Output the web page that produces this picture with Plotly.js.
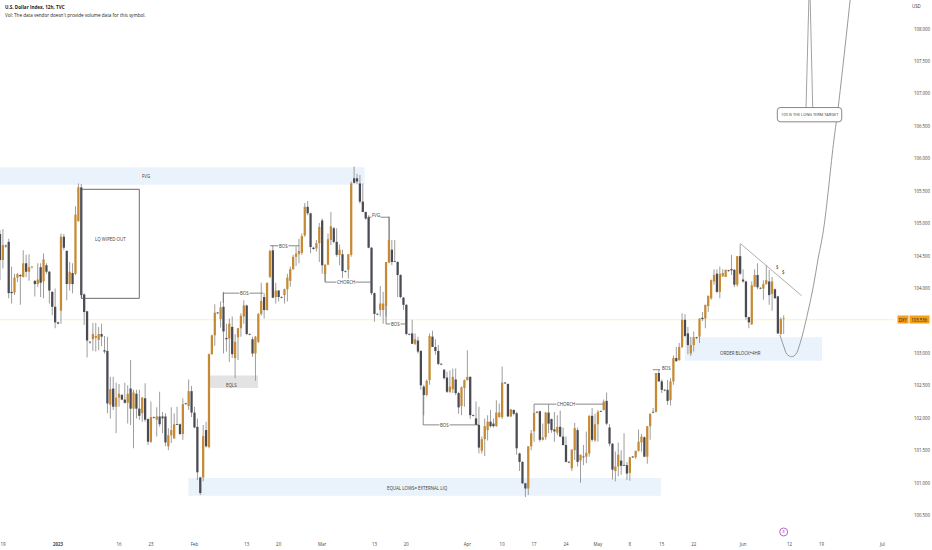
<!DOCTYPE html>
<html>
<head>
<meta charset="utf-8">
<script src="https://cdn.plot.ly/plotly-3.0.1.min.js"></script>
<style>html,body{margin:0;padding:0;background:#fff;overflow:hidden}</style>
</head>
<body>
<div id="chart" style="width:932px;height:550px"></div>
<script>
// 12h candles, one entry per bar
const opens = [
  104.84,104.44,104.66,104.72,103.95,103.94,104.17,104.21,104.18,104.39,
  104.26,104.33,104.12,104.07,104.33,104.11,104.36,104.26,103.95,103.72,
  103.48,103.66,104.80,104.58,104.07,104.24,104.23,105.04,105.56,103.91,
  103.65,103.18,103.22,103.24,103.21,103.30,103.05,103.04,102.21,102.46,
  102.18,102.32,102.36,102.29,102.24,102.46,102.15,102.38,102.15,102.08,
  102.31,101.99,101.64,102.02,101.98,102.03,102.03,102.03,101.57,101.74,
  101.69,101.91,101.91,101.76,102.23,102.19,102.42,102.09,101.87,101.09,
  101.09,101.82,101.56,102.99,103.28,103.63,103.53,103.72,103.24,103.23,
  103.41,102.93,103.25,103.39,103.57,103.74,103.30,103.22,103.00,103.18,
  103.61,103.87,103.67,104.18,104.59,103.87,103.97,103.87,103.90,103.99,
  104.12,104.30,104.49,104.53,104.55,104.82,105.26,105.16,104.63,104.62,
  104.70,105.05,104.23,104.37,104.75,104.93,104.72,104.52,104.53,104.27,
  104.29,104.52,105.70,105.70,105.62,105.34,105.18,105.10,104.63,103.93,
  103.61,103.67,103.67,103.73,104.40,104.60,104.42,104.41,104.21,103.86,
  103.75,103.30,103.31,103.15,103.20,103.04,102.49,102.36,102.59,103.26,
  103.10,103.04,102.84,102.75,102.63,102.41,102.45,102.60,102.39,102.19,
  102.47,102.59,102.64,102.05,102.00,101.90,101.50,101.68,101.82,101.95,
  101.92,101.88,102.02,102.02,102.55,102.53,102.03,102.13,102.08,101.46,
  101.33,101.00,100.92,101.57,101.80,102.10,102.11,101.67,101.71,102.09,
  101.99,101.83,101.78,101.87,101.72,101.59,101.33,101.23,101.51,101.82,
  101.35,101.41,101.41,101.46,102.04,101.66,101.91,102.11,102.13,102.27,
  101.86,101.61,101.19,101.26,101.35,101.28,101.28,101.16,101.41,101.40,
  101.50,101.63,101.71,101.41,101.88,102.10,102.10,102.70,102.57,102.44,
  102.44,102.28,102.57,102.93,102.90,103.10,103.52,103.31,103.00,103.13,
  103.25,103.26,103.55,103.54,103.73,103.85,104.11,104.23,103.95,104.19,
  104.18,104.28,104.30,104.29,104.06,104.50,104.14,104.11,103.56,103.45,
  104.03,104.21,104.01,104.00,104.07,104.11,103.92,103.99,103.88,103.30,103.53
];
const highs = [
  104.90,104.92,104.68,104.77,104.34,104.23,104.24,104.22,104.59,104.52,
  104.53,104.34,104.13,104.39,104.39,104.54,104.39,104.27,103.96,104.00,
  103.49,104.85,104.84,104.59,104.41,104.39,105.27,105.62,105.61,103.93,
  103.66,103.19,103.47,103.47,103.41,103.46,103.27,103.26,102.64,102.64,
  102.55,102.53,102.38,102.55,102.51,102.90,102.44,102.44,102.44,102.33,
  102.54,102.00,102.26,102.03,102.17,102.41,102.10,102.08,101.85,102.17,
  102.08,102.18,101.92,102.31,102.24,102.60,102.50,102.18,102.00,101.10,
  101.90,101.95,103.00,103.29,103.76,103.64,103.80,103.95,103.46,103.54,
  103.57,103.30,103.39,103.62,103.82,103.75,103.31,103.26,103.27,103.62,
  104.09,103.93,104.09,104.60,104.67,104.09,103.98,103.88,104.00,104.23,
  104.34,104.52,104.65,104.77,104.85,105.32,105.35,105.17,104.64,104.75,
  105.01,105.08,104.37,104.85,105.18,104.95,104.93,104.68,104.60,104.28,
  104.53,105.65,105.88,105.77,105.75,105.62,105.19,105.13,104.64,103.94,
  103.62,104.04,103.95,104.41,105.11,104.75,104.75,104.42,104.22,103.87,
  103.76,103.31,103.52,103.31,103.26,103.05,102.52,102.60,103.31,103.35,
  103.22,103.13,102.85,102.76,102.72,102.74,102.77,102.77,102.41,102.49,
  102.60,103.05,102.65,102.06,102.26,102.18,101.72,102.00,102.05,102.13,
  102.00,102.28,102.23,102.80,102.56,102.54,102.14,102.14,102.10,101.47,
  101.34,101.01,101.57,101.82,102.09,102.11,102.12,101.92,102.10,102.22,
  102.00,102.10,102.05,102.12,101.86,101.72,101.34,101.52,101.93,101.86,
  101.44,101.59,101.80,102.05,102.16,102.07,102.13,102.12,102.29,102.40,
  101.91,101.62,101.49,101.63,101.51,101.77,101.33,101.41,101.42,101.50,
  101.83,101.76,101.72,101.88,102.08,102.16,102.70,102.75,102.60,102.45,
  102.59,102.62,102.97,103.10,103.16,103.62,103.61,103.41,103.26,103.34,
  103.26,103.54,103.64,103.75,103.89,104.14,104.30,104.30,104.34,104.30,
  104.29,104.29,104.52,104.30,104.50,104.69,104.30,104.12,103.57,104.11,
  104.30,104.39,104.02,104.13,104.36,104.29,104.18,104.00,103.89,103.56,103.59
];
const lows = [
  104.13,104.31,104.63,103.85,103.77,103.90,104.10,103.75,104.17,104.18,
  104.12,104.31,103.88,104.03,103.87,103.85,104.23,103.77,103.59,103.39,
  103.45,103.46,104.59,103.82,103.97,103.93,104.21,105.03,103.85,103.44,
  102.94,103.15,103.04,103.03,103.05,103.11,103.00,102.08,102.00,102.13,
  101.77,102.18,102.28,102.23,101.92,101.90,101.54,102.00,101.98,101.95,
  101.95,101.59,101.62,102.00,101.72,101.87,101.77,101.57,101.51,101.62,
  101.69,101.90,101.74,101.67,102.21,102.13,102.02,101.85,101.05,100.82,
  101.03,101.55,101.54,102.98,103.12,103.61,103.40,103.00,103.03,102.87,
  102.93,102.62,102.90,103.26,103.46,103.28,103.28,102.95,102.58,103.16,
  103.58,103.54,103.66,104.16,103.85,103.77,103.80,103.85,103.77,103.80,
  104.03,104.29,104.35,104.39,104.52,104.80,105.13,104.55,104.60,104.57,
  104.41,104.23,104.11,104.36,104.67,104.70,104.49,104.36,104.16,104.25,
  104.13,104.49,105.62,105.61,105.31,105.18,105.06,104.62,103.90,103.49,
  103.59,103.57,103.46,103.57,104.39,104.36,104.41,103.87,103.85,103.67,
  103.28,103.28,103.15,103.13,103.00,102.44,102.05,102.34,102.52,103.10,
  102.98,102.82,102.82,102.60,102.39,102.39,102.39,102.36,102.07,102.05,
  102.18,102.58,101.99,102.03,101.90,101.46,101.46,101.42,101.66,101.86,
  101.86,101.87,102.01,101.99,102.53,102.02,102.02,102.05,101.44,101.19,
  100.99,100.79,100.82,101.51,101.64,102.08,101.64,101.66,101.67,101.77,
  101.78,101.64,101.74,101.71,101.58,101.32,101.31,101.19,101.36,101.26,
  101.01,101.28,101.31,101.41,101.64,101.64,101.64,102.10,102.12,101.90,
  101.57,101.06,101.03,101.11,101.13,101.27,101.05,101.04,101.39,101.38,
  101.49,101.49,101.40,101.30,101.67,102.08,102.09,102.57,102.39,102.42,
  102.21,102.20,102.52,102.88,102.89,103.08,103.25,102.99,102.96,103.03,
  103.22,103.16,103.50,103.39,103.64,103.83,104.06,103.93,103.85,104.18,
  104.18,104.26,104.21,104.02,104.03,104.21,104.09,103.52,103.39,103.44,
  104.03,103.99,103.99,103.83,104.06,103.75,103.66,103.85,103.30,103.29,103.30
];
const closes = [
  104.44,104.67,104.65,103.93,103.93,104.17,104.22,104.19,104.39,104.26,
  104.33,104.34,104.07,104.14,104.09,104.45,104.26,103.97,103.72,103.48,
  103.46,104.80,104.63,104.07,104.26,104.07,105.14,105.56,103.90,103.64,
  103.20,103.17,103.30,103.27,103.30,103.26,103.03,102.23,102.45,102.18,
  102.32,102.38,102.29,102.24,102.38,102.15,102.40,102.15,102.04,102.32,
  101.98,101.64,102.02,102.01,102.03,101.91,102.00,101.63,101.74,101.82,
  101.91,101.90,101.76,102.22,102.22,102.42,102.09,101.86,101.17,100.85,
  101.73,101.57,102.99,103.28,103.63,103.62,103.71,103.34,103.22,103.46,
  102.99,103.18,103.39,103.58,103.74,103.30,103.29,103.00,103.26,103.61,
  103.81,103.67,104.09,104.58,103.86,103.97,103.87,103.86,103.99,104.17,
  104.30,104.49,104.54,104.58,104.81,105.26,105.16,104.64,104.61,104.70,
  104.95,104.36,104.37,104.76,104.96,104.72,104.52,104.60,104.27,104.26,
  104.53,105.62,105.63,105.65,105.34,105.18,105.08,104.63,103.93,103.61,
  103.60,103.77,103.77,104.41,104.75,104.41,104.41,104.21,103.87,103.75,
  103.30,103.29,103.15,103.22,103.03,102.51,102.36,102.58,103.27,103.10,
  103.04,102.84,102.83,102.62,102.41,102.49,102.64,102.39,102.17,102.48,
  102.59,102.64,102.05,102.04,101.90,101.55,101.68,101.88,101.95,101.88,
  101.88,102.09,102.09,102.55,102.54,102.03,102.14,102.07,101.54,101.33,
  101.00,100.92,101.57,101.77,102.09,102.09,101.67,101.71,102.09,101.92,
  101.82,101.80,101.87,101.72,101.59,101.33,101.32,101.52,101.85,101.33,
  101.44,101.40,101.47,102.04,101.67,101.91,102.10,102.10,102.26,101.92,
  101.61,101.21,101.26,101.44,101.27,101.27,101.15,101.40,101.40,101.50,
  101.64,101.72,101.41,101.88,102.07,102.09,102.70,102.57,102.44,102.43,
  102.27,102.57,102.93,102.88,103.10,103.52,103.27,103.13,103.13,103.25,
  103.24,103.54,103.53,103.75,103.89,104.13,104.21,103.95,104.23,104.24,
  104.29,104.27,104.28,104.06,104.50,104.23,104.11,103.56,103.48,104.05,
  104.21,104.02,104.00,104.07,104.13,103.90,104.11,103.85,103.31,103.53,103.54
];

// time axis, in bars from the left edge
const tickBars = [1, 20, 41, 52, 67, 85, 96, 111, 129, 140, 161, 173, 184, 195, 206, 217, 228, 239, 256, 272, 283, 304];
const tickLabels = ['19', '<b>2023</b>', '16', '23', 'Feb', '13', '20', 'Mar', '13', '20', 'Apr', '10', '17', '24', 'May', '8', '15', '22', 'Jun', '12', '19', 'Jul'];

// price axis; 103.500 sits behind the last price tag
const priceTicks = [100.5, 101, 101.5, 102, 102.5, 103, 104, 104.5, 105, 105.5, 106, 106.5, 107, 107.5, 108];

// drawn projection curve
const curveBars = [268.7, 270.1, 271.1, 272.8, 274.2, 275.6, 277.9, 280.2, 281.9, 283.7, 287.3, 288.8, 292.9];
const curvePrices = [103.285, 103.10, 102.99, 102.95, 102.99, 103.15, 103.55, 104.03, 104.47, 104.90, 106.29, 106.80, 108.45];

const lastPrice = 103.52;
const fmt = { color: '#3a3a3a', family: '"Open Sans", sans-serif', size: 4.4 };

const bars = opens.map((_, i) => i);
const UP = '#c58a33', DOWN = '#4a4b52', WICK = '#969696';
const bodyColors = opens.map((o, i) => (closes[i] >= o ? UP : DOWN));

const wicks = {
  type: 'bar', x: bars, base: lows, y: highs.map((h, i) => h - lows[i]),
  width: 0.32, marker: { color: WICK, line: { width: 0 } }, hoverinfo: 'skip', showlegend: false
};
const bodies = {
  type: 'bar', x: bars,
  base: opens.map((o, i) => Math.min(o, closes[i])),
  y: opens.map((o, i) => Math.max(Math.abs(closes[i] - o), 0.012)),
  width: 0.78, marker: { color: bodyColors, line: { width: 0 } }, hoverinfo: 'skip', showlegend: false
};
const curve = {
  type: 'scatter', mode: 'lines', x: curveBars, y: curvePrices,
  line: { color: '#999', width: 1, shape: 'spline' }, hoverinfo: 'skip', showlegend: false
};
const earnings = {
  type: 'scatter', mode: 'markers+text', x: [270], y: [100.25], text: ['8'], textposition: 'middle center',
  textfont: { color: '#9c27b0', size: 3.8, family: fmt.family },
  marker: { size: 8, color: 'rgba(0,0,0,0)', line: { color: '#a845bc', width: 0.8 } },
  hoverinfo: 'skip', showlegend: false, cliponaxis: false
};

function zone(x0, x1, y0, y1, fill) {
  return { type: 'rect', layer: 'below', x0, x1, y0, y1, fillcolor: fill, line: { width: 0 } };
}
function seg(x0, y0, x1, y1, color) {
  return { type: 'line', x0, y0, x1, y1, line: { color: color || '#6a6a6a', width: 0.8 } };
}
function label(x, y, text, opts) {
  return Object.assign({ x, y, text, showarrow: false, font: fmt, borderpad: 0 }, opts || {});
}

const ZONE = '#eaf2fb';
const shapes = [
  zone(-1, 125.6, 105.60, 105.87, ZONE),
  zone(72.4, 88.9, 102.47, 102.66, '#e3e3e3'),
  zone(64.9, 227.7, 100.81, 101.08, ZONE),
  zone(236, 283.2, 102.89, 103.25, ZONE),
  { type: 'line', layer: 'below', x0: -1, x1: 309, y0: lastPrice, y1: lastPrice, line: { color: '#fbeecb', width: 1 } },
  { type: 'rect', x0: 28.1, x1: 48, y0: 103.85, y1: 105.53, line: { color: '#5a5a5a', width: 0.9 }, fillcolor: 'rgba(0,0,0,0)' },
  // structure markers
  seg(76.9, 103.93, 90.7, 103.93), seg(76.9, 103.93, 76.9, 103.78),
  seg(93, 104.66, 103.1, 104.66),
  seg(112, 104.10, 128.1, 104.10), seg(112, 104.10, 112, 104.24),
  seg(126.8, 105.10, 134.1, 105.10), seg(134.1, 105.10, 134.1, 104.75),
  seg(133, 103.455, 140.1, 103.455), seg(133, 103.455, 133, 103.73),
  seg(145.8, 101.90, 165, 101.90), seg(145.8, 101.90, 145.8, 102.36),
  seg(184, 102.22, 207.8, 102.22), seg(184, 102.22, 184, 102.10),
  seg(224.9, 102.75, 227.4, 102.75),
  // trend line and target callout
  seg(255.2, 104.69, 276.2, 103.89, '#999'),
  seg(277.7, 106.79, 278.7, 108.5, '#8a8a8a'), seg(280, 106.79, 279.1, 108.5, '#8a8a8a'),
  {
    type: 'path', fillcolor: '#fff', line: { color: '#6a6a6a', width: 0.8 },
    path: 'M 268.8 106.57 L 289 106.57 Q 290 106.57 290 106.62 L 290 106.74 Q 290 106.79 289 106.79 ' +
      'L 268.8 106.79 Q 267.8 106.79 267.8 106.74 L 267.8 106.62 Q 267.8 106.57 268.8 106.57 Z'
  }
];

const white = { bgcolor: '#fff' };
const small = Object.assign({}, fmt, { size: 3.9 });
const annotations = [
  label(50.3, 105.735, 'FVG'),
  label(37.9, 104.76, 'LQ WIPED OUT'),
  label(79.9, 102.515, 'EQLS'),
  label(143.7, 100.93, 'EQUAL LOWS= EXTERNAL LIQ'),
  label(255, 103.01, 'ORDER BLOCK+4HR'),
  label(84.4, 103.93, 'BOS', white),
  label(97.5, 104.66, 'BOS', white),
  label(119.2, 104.10, 'CHORCH', white),
  label(129.5, 105.14, 'FVG', white),
  label(136.4, 103.455, 'BOS', white),
  label(153.3, 101.90, 'BOS', white),
  label(195, 102.22, 'CHORCH', white),
  label(229.5, 102.78, 'BOS'),
  label(278.9, 106.68, '109 IS THE LONG TERM TARGET', { font: small }),
  label(267.8, 104.33, '$'),
  label(270, 104.25, '$'),
  { xref: 'paper', yref: 'paper', x: 0.0034, y: 0.987, xanchor: 'left', yanchor: 'middle', showarrow: false,
    text: '<b>U.S. Dollar Index, 12h, TVC</b>', font: Object.assign({}, fmt, { size: 4.6, color: '#222' }) },
  { xref: 'paper', yref: 'paper', x: 0.0034, y: 0.972, xanchor: 'left', yanchor: 'middle', showarrow: false,
    text: "Vol: The data vendor doesn't provide volume data for this symbol.", font: Object.assign({}, fmt, { size: 4.6, color: '#222' }) },
  { xref: 'paper', yref: 'paper', x: 1.0245, y: 0.989, xanchor: 'center', yanchor: 'middle', showarrow: false,
    text: 'USD', font: fmt },
  { xref: 'paper', y: lastPrice, x: 1.00872, xanchor: 'center', yanchor: 'middle', showarrow: false, text: 'DXY',
    width: 10, height: 7, bgcolor: '#f6a01a', borderpad: 0, font: Object.assign({}, fmt, { color: '#222' }) },
  { xref: 'paper', y: lastPrice, x: 1.02737, xanchor: 'center', yanchor: 'middle', showarrow: false, text: '103.536',
    width: 19, height: 7, bgcolor: '#f6a01a', borderpad: 0, font: Object.assign({}, fmt, { color: '#222' }) }
];

const layout = {
  width: 932, height: 550,
  margin: { l: 0, r: 37, t: 0, b: 14, pad: 0 },
  paper_bgcolor: '#fff', plot_bgcolor: '#fff',
  barmode: 'overlay', showlegend: false,
  xaxis: {
    range: [0, 308.35], showgrid: false, zeroline: false, showline: false,
    ticks: 'outside', ticklen: 4, tickcolor: 'rgba(0,0,0,0)',
    tickmode: 'array', tickvals: tickBars, ticktext: tickLabels, tickangle: 0,
    tickfont: { color: '#444', family: fmt.family, size: 4.4 }, automargin: false
  },
  yaxis: {
    range: [100.188, 108.447], side: 'right', showgrid: false, zeroline: false, showline: false,
    tickmode: 'array', tickvals: priceTicks, tickformat: '.3f', ticks: 'outside', ticklen: 17, tickcolor: 'rgba(0,0,0,0)',
    tickfont: { color: '#444', family: fmt.family, size: 4.4 }, automargin: false
  },
  shapes, annotations
};

Plotly.newPlot('chart', [wicks, bodies, curve, earnings], layout, { displayModeBar: false, staticPlot: true });
</script>
</body>
</html>
